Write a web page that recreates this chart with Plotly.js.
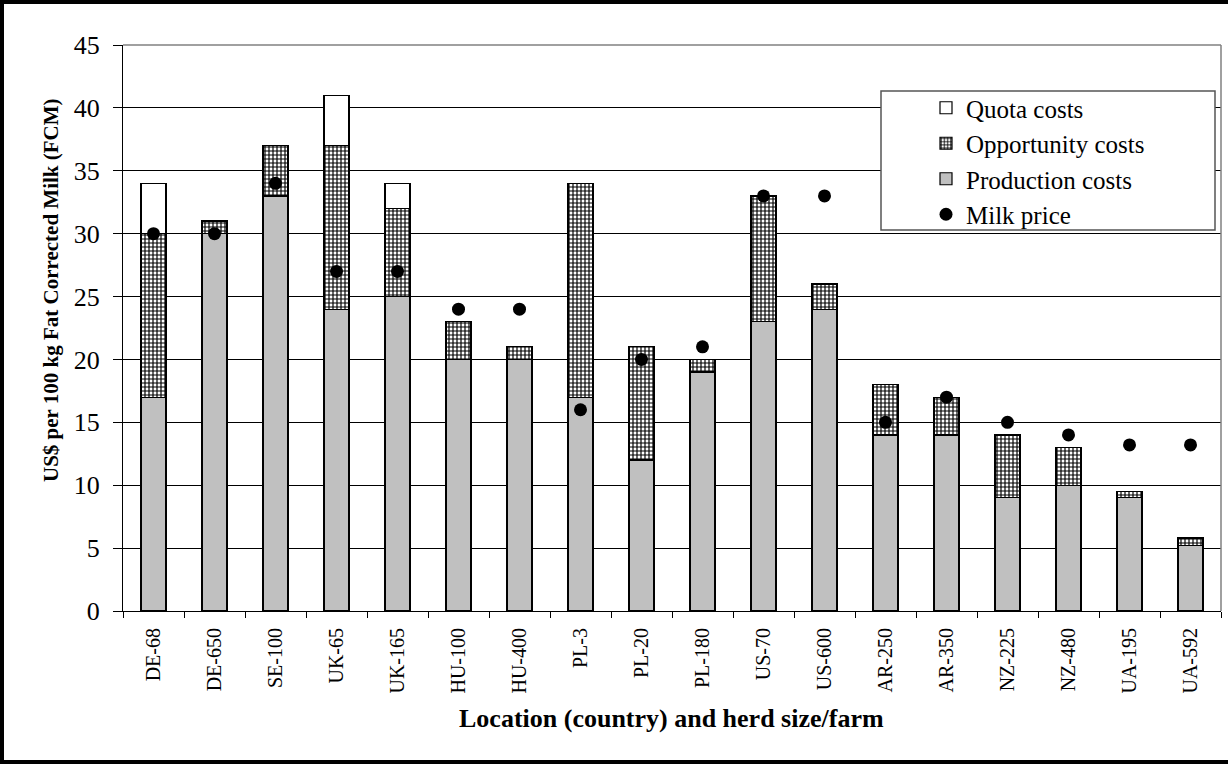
<!DOCTYPE html>
<html>
<head>
<meta charset="utf-8">
<script src="https://cdn.plot.ly/plotly-3.0.1.min.js"></script>
<style>
  html, body { margin: 0; padding: 0; background: #fff; }
  #wrap { position: relative; width: 1228px; height: 764px; }
  #chart { width: 1228px; height: 764px; }
  #frame { position: absolute; left: 0; top: 0; width: 1228px; height: 764px; box-sizing: border-box;
           border-left: 4px solid #000; border-top: 4px solid #000; border-bottom: 4px solid #000; pointer-events: none; }
</style>
</head>
<body>
<div id="wrap"><div id="chart"></div><div id="frame"></div></div>
<script>
const categories = ["DE-68","DE-650","SE-100","UK-65","UK-165","HU-100","HU-400","PL-3","PL-20","PL-180","US-70","US-600","AR-250","AR-350","NZ-225","NZ-480","UA-195","UA-592"];
const productionCosts = [17, 30, 33, 24, 25, 20, 20, 17, 12, 19, 23, 24, 14, 14, 9, 10, 9, 5.2];
const opportunityCosts = [13, 1, 4, 13, 7, 3, 1, 17, 9, 1, 10, 2, 4, 3, 5, 3, 0.5, 0.6];
const quotaCosts = [4, null, null, 4, 2, null, null, null, null, null, null, null, null, null, null, null, null, null];
const milkPrice = [30, 30, 34, 27, 27, 24, 24, 16, 20, 21, 33, 33, 15, 17, 15, 14, 13.2, 13.2];
const yTicks = [0, 5, 10, 15, 20, 25, 30, 35, 40, 45];

const serif = "Liberation Serif";
const outline = {color: "#000", width: 1.2};

const traces = [
  {type: "bar", name: "Production costs", x: categories, y: productionCosts, legendrank: 3,
   marker: {color: "#c0c0c0", line: outline}},
  {type: "bar", name: "Opportunity costs", x: categories, y: opportunityCosts, legendrank: 2,
   marker: {color: "#ffffff", line: outline,
            pattern: {shape: "+", fgcolor: "#000", bgcolor: "#ffffff", size: 4, solidity: 0.5}}},
  {type: "bar", name: "Quota costs", x: categories, y: quotaCosts, legendrank: 1,
   marker: {color: "#ffffff", line: outline}},
  {type: "scatter", mode: "markers", name: "Milk price", x: categories, y: milkPrice, legendrank: 4,
   marker: {color: "#000", size: 13, symbol: "circle"}}
];

const L = 123, R = 1221, T = 45, B = 611;
const W = R - L, H = B - T;
const px = v => (v - L) / W;
const py = v => (B - v) / H;

const layout = {
  width: 1228, height: 764,
  margin: {l: L, r: 1228 - R, t: T, b: 764 - B},
  paper_bgcolor: "#fff", plot_bgcolor: "#fff",
  barmode: "stack", bargap: 0.59,
  showlegend: true,
  font: {family: serif, color: "#000"},
  legend: {x: px(926), y: py(85), xanchor: "left", yanchor: "top",
           traceorder: "normal", bgcolor: "rgba(0,0,0,0)", borderwidth: 0,
           font: {family: serif, size: 25, color: "#000"}},
  xaxis: {type: "category", range: [-0.5, categories.length - 0.5],
          tickson: "boundaries", ticks: "outside", ticklen: 6, tickcolor: "#000",
          showline: true, linecolor: "#000", linewidth: 1, showgrid: false,
          tickangle: -90, ticklabelstandoff: 8,
          tickfont: {family: serif, size: 20, color: "#000"}, fixedrange: true},
  yaxis: {range: [0, 45], tickvals: yTicks, ticktext: yTicks.map(String),
          ticks: "outside", ticklen: 9, tickcolor: "#000",
          showline: true, linecolor: "#000", linewidth: 1,
          showgrid: true, gridcolor: "#000", gridwidth: 1, zeroline: false,
          ticklabelstandoff: 8,
          tickfont: {family: serif, size: 26, color: "#000"}, fixedrange: true},
  shapes: [
    {type: "line", xref: "paper", yref: "paper", x0: 0, x1: 1, y0: 1, y1: 1, line: {color: "#808080", width: 1.5}, layer: "above"},
    {type: "line", xref: "paper", yref: "paper", x0: 1, x1: 1, y0: 0, y1: 1, line: {color: "#808080", width: 1.5}, layer: "above"},
    {type: "rect", xref: "paper", yref: "paper", x0: px(881), x1: px(1215), y0: py(230), y1: py(91),
     line: {color: "#555", width: 1.5}, fillcolor: "#fff", layer: "above"}
  ],
  annotations: [
    {xref: "paper", yref: "paper", x: px(51), y: py(290), xanchor: "center", yanchor: "middle",
     text: "<b>US$ per 100 kg Fat Corrected Milk (FCM)</b>", textangle: -90, showarrow: false,
     font: {family: serif, size: 21, color: "#000"}},
    {xref: "paper", yref: "paper", x: px(671), y: py(718), xanchor: "center", yanchor: "middle",
     text: "<b>Location (country) and herd size/farm</b>", showarrow: false,
     font: {family: serif, size: 26, color: "#000"}}
  ]
};

Plotly.newPlot("chart", traces, layout, {displayModeBar: false, staticPlot: true});
</script>
</body>
</html>
